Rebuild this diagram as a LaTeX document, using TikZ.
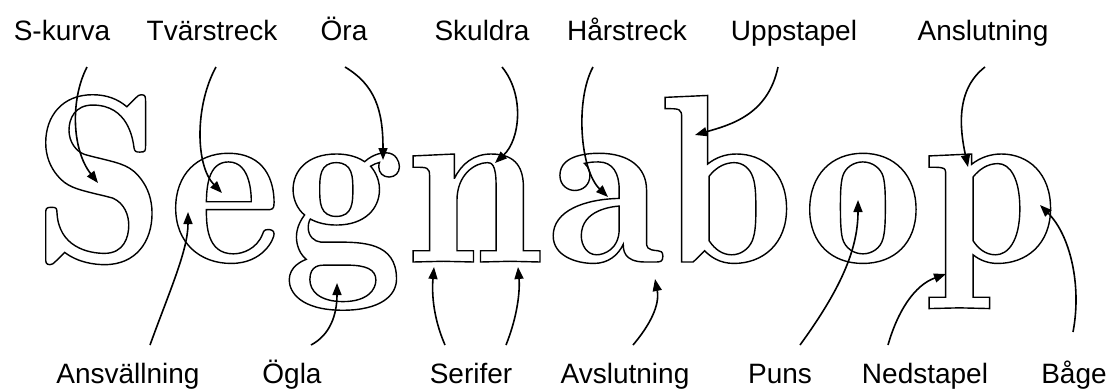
\documentclass[tikz,border=0pt]{standalone}
\usepackage{fontspec}
\setmainfont{Liberation Sans}
\newfontfamily\glyphfont{lmromandemi10-regular.otf}
\usetikzlibrary{arrows.meta}
\newcommand{\outlinetext}[1]{\special{pdf:literal direct 1 Tr 1.4 w}#1\special{pdf:literal direct 0 Tr}}
\tikzset{
  lbl/.style={font=\fontsize{28}{30}\selectfont, anchor=base, inner sep=0pt},
  glyph/.style={font=\glyphfont\fontsize{240}{240}\selectfont, anchor=base, inner sep=0pt},
  arr/.style={line width=1.6pt, -{Triangle[length=12pt,width=9pt]}}
}
\begin{document}
\begin{tikzpicture}[x=1pt,y=-1pt]
\useasboundingbox (0,0) rectangle (1111,389);
% big letters
\node[glyph] (gS) at (99,262) {\outlinetext{S}};
\node[glyph] (ge) at (225,262) {\outlinetext{e}};
\node[glyph] (gg) at (343,262) {\outlinetext{g}};
\node[glyph] (gn) at (474,262) {\outlinetext{n}};
\node[glyph] (ga) at (606,262) {\outlinetext{a}};
\node[glyph] (gb) at (728,262) {\outlinetext{b}};
\node[glyph] (go) at (863,262) {\outlinetext{o}};
\node[glyph] (gp) at (992,262) {\outlinetext{p}};
% top labels
\node[lbl] (l1) at (62,40) {S-kurva};
\node[lbl] (l2) at (212,40) {Tvärstreck};
\node[lbl] (l3) at (344,40) {Öra};
\node[lbl] (l4) at (482,40) {Skuldra};
\node[lbl] (l5) at (627,40) {Hårstreck};
\node[lbl] (l6) at (794,40) {Uppstapel};
\node[lbl] (l7) at (983,40) {Anslutning};
% bottom labels
\node[lbl] (b1) at (128,383) {Ansvällning};
\node[lbl] (b2) at (292,383) {Ögla};
\node[lbl] (b3) at (471,383) {Serifer};
\node[lbl] (b4) at (625,383) {Avslutning};
\node[lbl] (b5) at (780,383) {Puns};
\node[lbl] (b6) at (925,383) {Nedstapel};
\node[lbl] (b7) at (1074,383) {Båge};
% arrow ends
\coordinate (s1) at (87,67);   \coordinate (t1) at (98,183);
\coordinate (s2) at (216,67);  \coordinate (t2) at (222,193);
\coordinate (s3) at (345,67);  \coordinate (t3) at (383,160);
\coordinate (s4) at (502,67);  \coordinate (t4) at (495,163);
\coordinate (s5) at (593,67);  \coordinate (t5) at (608,197);
\coordinate (s6) at (778,67);  \coordinate (t6) at (695,135);
\coordinate (s7) at (985,67);  \coordinate (t7) at (968,167);
\coordinate (u1) at (150,345); \coordinate (v1) at (188,212);
\coordinate (u2) at (311,345); \coordinate (v2) at (337,283);
\coordinate (u3) at (445,345); \coordinate (v3) at (434,267);
\coordinate (u4) at (506,345); \coordinate (v4) at (518,267);
\coordinate (u5) at (633,345); \coordinate (v5) at (655,279);
\coordinate (u6) at (800,345); \coordinate (v6) at (858,200);
\coordinate (u7) at (888,345); \coordinate (v7) at (946,274);
\coordinate (u8) at (1073,332);\coordinate (v8) at (1040,205);
% top arrows
\draw[arr] (s1) .. controls (70,100) and (72,150) .. (t1);
\draw[arr] (s2) .. controls (195,105) and (195,165) .. (t2);
\draw[arr] (s3) .. controls (375,85) and (383,110) .. (t3);
\draw[arr] (s4) .. controls (525,95) and (520,140) .. (t4);
\draw[arr] (s5) .. controls (575,100) and (580,170) .. (t5);
\draw[arr] (s6) .. controls (768,115) and (730,125) .. (t6);
\draw[arr] (s7) .. controls (955,90) and (960,130) .. (t7);
% bottom arrows
\draw[arr] (u1) .. controls (170,290) and (188,250) .. (v1);
\draw[arr] (u2) .. controls (330,335) and (337,315) .. (v2);
\draw[arr] (u3) .. controls (432,315) and (432,290) .. (v3);
\draw[arr] (u4) .. controls (518,315) and (520,290) .. (v4);
\draw[arr] (u5) .. controls (650,325) and (660,305) .. (v5);
\draw[arr] (u6) .. controls (840,290) and (858,250) .. (v6);
\draw[arr] (u7) .. controls (898,310) and (915,285) .. (v7);
\draw[arr] (u8) .. controls (1082,285) and (1070,235) .. (v8);
\end{tikzpicture}
\end{document}
